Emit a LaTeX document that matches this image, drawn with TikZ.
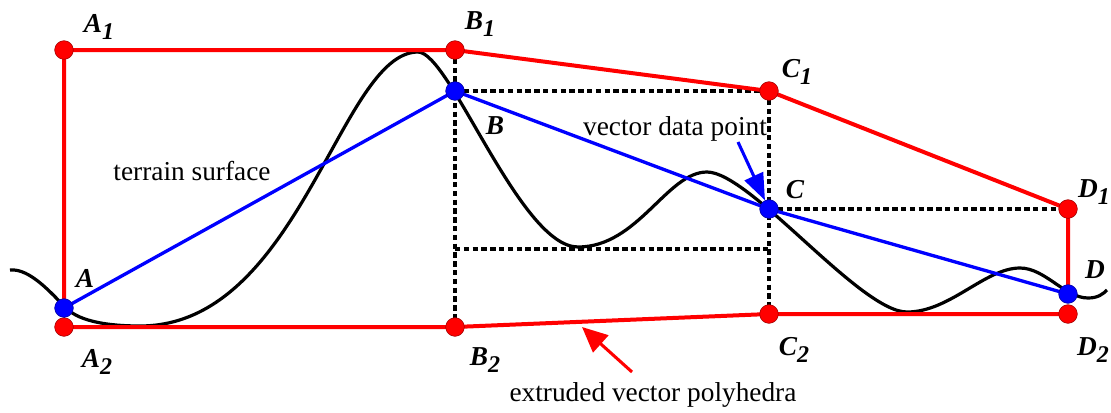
\documentclass[tikz,border=0pt]{standalone}
\usepackage{fontspec}
\setmainfont{Liberation Serif}
\usetikzlibrary{arrows.meta}
\newcommand\lsub[1]{\raisebox{-0.25em}{\fontsize{18}{20}\selectfont #1}}
\begin{document}
\begin{tikzpicture}[x=0.75pt,y=-0.75pt,
 reddot/.style={circle,fill=red,draw=red!60!black,line width=0.4pt,minimum size=14pt,inner sep=0pt},
 bluedot/.style={circle,fill=blue,draw=blue!60!black,line width=0.4pt,minimum size=14pt,inner sep=0pt},
 redline/.style={red,line width=3pt},
 blueline/.style={blue,line width=2.5pt},
 gridline/.style={draw=black,line width=2.6pt,dash pattern=on 4pt off 2.6pt},
 terrain/.style={draw=black,line width=2.4pt},
 thinline/.style={black!70,line width=0.6pt},
 lbl/.style={font=\fontsize{20.5}{24}\selectfont\bfseries\itshape,inner sep=0pt},
 txt/.style={font=\fontsize{20.5}{24}\selectfont,inner sep=0pt,anchor=base}]
\useasboundingbox (0,0) rectangle (1111,412);

% point positions
\coordinate (pA1) at (64,50);
\coordinate (pB1) at (455,50);
\coordinate (pC1) at (769,91);
\coordinate (pD1) at (1068,209);
\coordinate (pA) at (64,308);
\coordinate (pB) at (455,91);
\coordinate (pC) at (769,209);
\coordinate (pD) at (1068,294);
\coordinate (pA2) at (64,327);
\coordinate (pB2) at (455,327);
\coordinate (pC2) at (769,314);
\coordinate (pD2) at (1068,314);
\coordinate (hL) at (455,249);
\coordinate (hR) at (769,249);

% terrain surface
\draw[terrain] (10,270) .. controls (30,268) and (52,294) .. (66,308)
  .. controls (80,322) and (110,326) .. (140,326)
  .. controls (300,326) and (340,52) .. (418,52)
  .. controls (450,52) and (520,247) .. (578,247)
  .. controls (638,247) and (667,172) .. (707,172)
  .. controls (750,172) and (860,312) .. (907,312)
  .. controls (950,312) and (985,268) .. (1020,268)
  .. controls (1045,268) and (1065,298) .. (1088,298)
  .. controls (1098,298) and (1103,294) .. (1107,290);

% dashed projection lines
\draw[gridline] (pB1) -- (pB2);
\draw[gridline] (pB) -- (pC1);
\draw[gridline] (pC1) -- (pC2);
\draw[gridline] (pC) -- (pD1);
\draw[gridline] (hL) -- (hR);

% vector line
\draw[blueline] (pA) -- (pB) -- (pC) -- (pD);

% extruded polyhedra
\draw[redline] (pA) -- (pA1) -- (pB1) -- (pC1) -- (pD1) -- (pD);
\draw[redline] (pA2) -- (pB2) -- (pC2) -- (pD2);
\draw[thinline] (pA) -- (pA2);

% dots
\node[reddot] (A1) at (pA1) {};
\node[reddot] (B1) at (pB1) {};
\node[reddot] (C1) at (pC1) {};
\node[reddot] (D1) at (pD1) {};
\node[reddot] (A2) at (pA2) {};
\node[reddot] (B2) at (pB2) {};
\node[reddot] (C2) at (pC2) {};
\node[reddot] (D2) at (pD2) {};
\node[bluedot] (A) at (pA) {};
\node[bluedot] (B) at (pB) {};
\node[bluedot] (C) at (pC) {};
\node[bluedot] (D) at (pD) {};

% labels
\node[lbl] (lA1) at (99,27) {A\lsub{1}};
\node[lbl] (lB1) at (480,24) {B\lsub{1}};
\node[lbl] (lC1) at (797,72) {C\lsub{1}};
\node[lbl] (lD1) at (1094,192) {D\lsub{1}};
\node[lbl] (lA) at (85,278) {A};
\node[lbl] (lB) at (495,126) {B};
\node[lbl] (lC) at (795,190) {C};
\node[lbl] (lD) at (1095,270) {D};
\node[lbl] (lA2) at (97,362) {A\lsub{2}};
\node[lbl] (lB2) at (485,360) {B\lsub{2}};
\node[lbl] (lC2) at (794,350) {C\lsub{2}};
\node[lbl] (lD2) at (1093,350) {D\lsub{2}};

% texts
\node[txt] (ts) at (192,180) {terrain surface};
\node[txt] (vdp) at (675,135) {vector data point};
\node[txt] (evp) at (653,401) {extruded vector polyhedra};

% arrows
\coordinate (bt) at (738,142);
\draw[blue,line width=2.3pt,-{Triangle[length=20pt,width=15pt]}] (bt) -- (C);
\coordinate (rt) at (632,372);
\coordinate (rh) at (582,327);
\draw[red,line width=2.3pt,-{Triangle[length=19pt,width=17pt]}] (rt) -- (rh);
\end{tikzpicture}
\end{document}
